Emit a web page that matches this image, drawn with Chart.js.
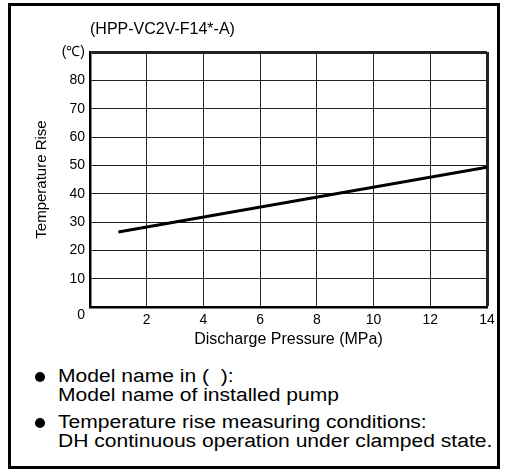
<!DOCTYPE html>
<html>
<head>
<meta charset="utf-8">
<script src="https://cdn.jsdelivr.net/npm/chart.js@4"></script>
<style>
  body { margin: 0; background: #fff; }
  #wrap { position: relative; width: 506px; height: 474px; overflow: hidden; }
  #frame {
    position: absolute; left: 8px; top: 3px; width: 492px; height: 466px;
    border: 3px solid #000; box-sizing: border-box;
  }
  #c { position: absolute; left: 0; top: 0; }
  .dot {
    position: absolute; left: 35px; width: 10px; height: 10px;
    border-radius: 50%; background: #000;
  }
  .txt {
    position: absolute; left: 58px; white-space: nowrap;
    font: 18px "Liberation Sans", Arial, sans-serif; line-height: 19px;
    transform: scaleX(1.17); transform-origin: 0 0; color: #000;
  }
</style>
</head>
<body>
<div id="wrap">
  <div id="frame"></div>
  <canvas id="c" width="506" height="360"></canvas>
  <span class="dot" style="top:372px"></span>
  <div class="txt" style="top:367px">Model name in (&nbsp;&nbsp;):<br>Model name of installed pump</div>
  <span class="dot" style="top:418px"></span>
  <div class="txt" style="top:413px">Temperature rise measuring conditions:<br>DH continuous operation under clamped state.</div>
</div>
<script>
// ================= DATA =================
const modelName = "(HPP-VC2V-F14*-A)";
const pressure = [1, 14];          // MPa
const tempRise = [26.5, 49.3];     // °C
const xTicks = [0, 2, 4, 6, 8, 10, 12, 14];
const xTickLabels = ["", "2", "4", "6", "8", "10", "12", "14"];
const yTicks = [0, 10, 20, 30, 40, 50, 60, 70, 80, 90];
const yTickLabels = ["0", "10", "20", "30", "40", "50", "60", "70", "80", "(℃)"];

const FONT = '"Liberation Sans", Arial, sans-serif';

// ================= CHART =================
const chart = new Chart(document.getElementById("c"), {
  type: "scatter",
  data: {
    datasets: [
      {
        data: pressure.map((p, i) => ({ x: p, y: tempRise[i] })),
        showLine: true,
        borderColor: "#000",
        borderWidth: 3,
        pointRadius: 0,
      },
    ],
  },
  options: {
    responsive: false,
    animation: false,
    layout: { padding: { left: 0, right: 19, top: 0, bottom: 0 } },
    plugins: {
      legend: { display: false },
      tooltip: { enabled: false },
      title: {
        display: true,
        text: modelName,
        align: "start",
        fullSize: false,
        color: "#000",
        font: { family: FONT, size: 16, weight: "normal" },
        padding: { top: 20.4, bottom: 12.4 },
      },
    },
    scales: {
      x: {
        type: "linear",
        min: 0,
        max: 14,
        afterBuildTicks: (s) => { s.ticks = xTicks.map((v) => ({ value: v })); },
        afterFit: (s) => { s.height = 53; },
        ticks: {
          color: "#000",
          font: { family: FONT, size: 14 },
          padding: 5,
          maxRotation: 0,
          autoSkip: false,
          callback: (v) => xTickLabels[xTicks.indexOf(v)],
        },
        grid: {
          color: "#222",
          drawTicks: false,
          lineWidth: (ctx) => (ctx.tick && ctx.tick.value === 14 ? 3 : 1),
        },
        border: { display: true, color: "#000", width: 2.5 },
        title: {
          display: true,
          text: "Discharge Pressure (MPa)",
          color: "#000",
          font: { family: FONT, size: 16 },
          padding: { top: 0, bottom: 10.4 },
        },
      },
      y: {
        type: "linear",
        min: 0,
        max: 90,
        afterBuildTicks: (s) => { s.ticks = yTicks.map((v) => ({ value: v })); },
        afterFit: (s) => { s.width = 90; },
        ticks: {
          color: "#000",
          font: { family: FONT, size: 14 },
          padding: 5,
          autoSkip: false,
          callback: (v) => {
            const lbl = yTickLabels[yTicks.indexOf(v)];
            // the 0 sits a little below the corner
            return v === 0 ? ["", lbl] : lbl;
          },
        },
        grid: {
          color: "#222",
          drawTicks: false,
          lineWidth: (ctx) => (ctx.tick && ctx.tick.value === 90 ? 3 : 1),
        },
        border: { display: true, color: "#000", width: 2.5 },
        title: {
          display: true,
          text: "Temperature Rise",
          color: "#000",
          font: { family: FONT, size: 15 },
          padding: { top: 33, bottom: 0 },
        },
      },
    },
  },
});
</script>
</body>
</html>
